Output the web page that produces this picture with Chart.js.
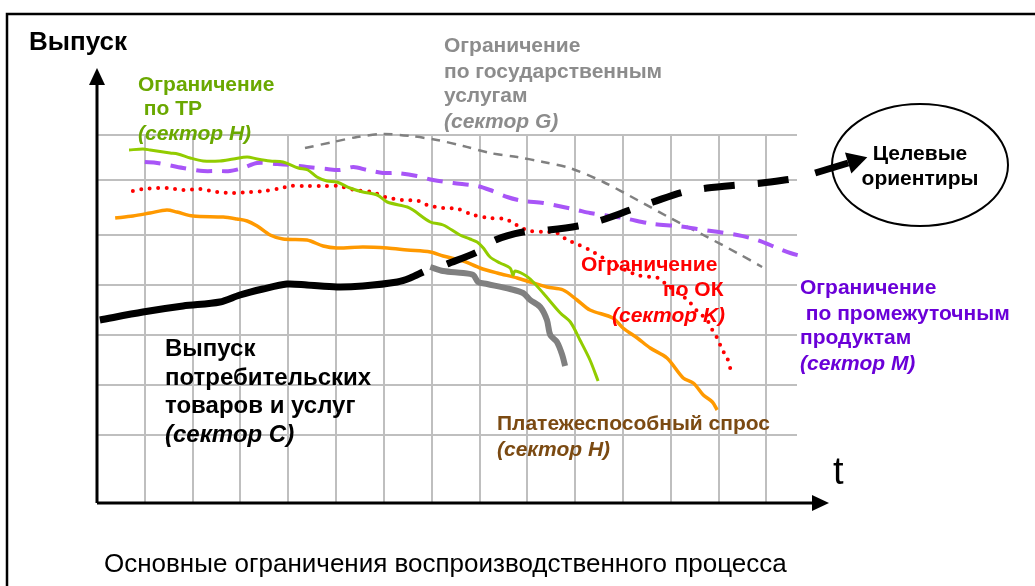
<!DOCTYPE html>
<html>
<head>
<meta charset="utf-8">
<script src="https://cdn.jsdelivr.net/npm/chart.js@4.4.1/dist/chart.umd.min.js"></script>
<style>
  body { margin: 0; background: #fff; }
  canvas { display: block; }
</style>
</head>
<body>
<canvas id="chart" width="1035" height="586"></canvas>
<script>
/* time (x) and output (y), x grid step = 10 */
const xTicks = [10, 20, 30, 40, 50, 60, 70, 80, 90, 100, 110, 120, 130, 140];
const yTicks = [0, 10, 20, 30, 40, 51, 60];

// Ограничение по государственным услугам (сектор G)
const govSeries = [[43.5,57.4],[49.4,58.6],[54.4,59.6],[59.8,60.2],[65.5,59.8],[71.1,59],[76.6,57.8],[82.2,56.4],
  [87.9,55.6],[93.3,54.6],[98.9,53.4],[105.9,50.6],[113,47],[119.9,43.4],[126.8,40],[133.9,36.4],[139.1,33.6]];
// Ограничение по промежуточным продуктам (сектор M)
const interSeries = [[10,54.6],[12.6,54.4],[18,53.4],[22.2,52.8],[25.1,52.8],[27.8,52.8],[30.5,53.4],[33.5,54.4],
  [37.7,54.2],[40.4,54],[43.9,53.6],[48.1,53.2],[50.8,53],[53.6,53.6],[56.5,53],[59.8,52.4],[62.8,52.4],[66.9,51.8],
  [70.3,51],[74.5,50.4],[79.5,49.8],[82.2,49],[85.8,47.6],[89.1,46.8],[93.3,46.4],[97.5,45.6],[100.4,45],[103.1,44.4],
  [110,43.4],[116.3,42.2],[121.3,41.8],[125.5,41.2],[133.9,40],[138.1,39],[142.3,37.4],[145,36.4],[148.1,35.6]];
// Ограничение по ОК (сектор K)
const capitalSeries = [[7.5,48.8],[9.6,49.2],[12.8,49.4],[14.9,49.4],[18,49],[21.5,49.2],[25.1,48.6],[28.5,48.4],
  [32,48.6],[35.1,48.8],[38.7,49.4],[40.4,49.8],[43.9,49.8],[47.3,49.8],[50.4,49.8],[54,49],[57.5,48.6],[60.3,47.6],
  [63.8,47],[67.2,46.8],[69,46],[72.4,45.4],[75.5,45.2],[78.7,44],[82.2,43.4],[85.4,43.2],[87,42.4],[88.9,41.4],
  [90.6,40.8],[93.3,40.6],[96.2,40.4],[98.3,39],[100.4,38.2],[103.8,36.6],[107.3,34.6],[110.5,33],[113,32],
  [115.7,31.6],[117.4,31.4],[119.2,30],[121.3,28.6],[123,27.4],[124.1,26.4],[125.7,24.6],[127.6,23],[128.7,21],
  [129.7,19.4],[130.8,17],[131.8,15.4],[132.8,12]];
// Платежеспособный спрос (сектор H)
const demandSeries = [[3.8,43.4],[7.5,43.8],[11.1,44.4],[14.6,45],[16.7,44.6],[20.1,43.8],[26.4,43.6],[29.3,43.2],
  [31.4,42.8],[33.5,41.8],[36.2,40],[38.9,39.2],[43.9,39],[47.3,37.8],[50.2,37.4],[55.6,37.6],[60.7,37.4],[64.9,37],
  [69.7,36.6],[72.4,35.8],[76.6,34.8],[80.1,33.4],[83.7,32.4],[87.9,31.4],[90.6,30.6],[94.1,29.6],[97.5,29],
  [100.4,27],[103.1,25],[107.9,23.4],[110,21.4],[113,19.4],[115.7,17.4],[119.2,15.4],[122.6,11.4],[124.7,10.4],
  [126.8,8],[128.7,6.6],[129.7,5]];
// Ограничение по ТР (сектор H)
const labourSeries = [[6.7,57],[9.6,57.2],[11.1,57],[15.3,56.4],[16.9,56.2],[19.5,55.4],[22.2,54.8],[25.7,54.8],
  [28.5,55.2],[31.4,55.6],[33.5,55.2],[36.2,54.8],[38.9,54.6],[42.1,53.4],[44.1,53],[46,51.6],[48.1,50.8],[50.2,50.6],
  [52.9,49.4],[55.6,48.6],[58.6,48],[60.7,46.6],[64.9,45.6],[66.1,45],[69.7,42.6],[72.4,42],[75.9,40],[78,39.2],
  [79.5,38.6],[80.8,37.4],[82.2,35.6],[84.3,34.4],[86.4,33.4],[87,32],[87.4,32.8],[89.1,32.2],[90.6,31.2],
  [93.3,28.4],[96.9,24.4],[99,22.6],[101,19],[103.1,15],[104.8,10.8]];
// Выпуск потребительских товаров и услуг (сектор C)
const outputSeries = [[0.6,23],[9.6,24.6],[18,25.8],[25.7,26.6],[29.9,28],[34.7,29.2],[39.7,30.2],[43.9,30],
  [50.2,29.6],[55.6,29.8],[62.8,30.6],[65.5,31.4],[68.2,32.6]];
// спад выпуска
const fallSeries = [[69.7,33.6],[72.4,32.8],[76.6,32.4],[78.7,32],[79.7,30.6],[81.6,30.2],[86.4,29.2],[89.1,28.4],
  [90.6,27],[92.7,25.6],[94.1,23],[94.8,20],[96.2,18.6],[97.3,16],[97.9,13.8]];
// Целевые ориентиры (dashed part and the last stroke with the arrow)
const targetSeries = [[73.2,34.2],[79.5,36.6],[83.3,39],[89.1,40.6],[94.4,41],[100.6,41.8],[105.6,43],[111.5,45],
  [116.3,46.6],[122.6,48.6],[127.6,49.4],[133.9,50],[139.1,50.4],[145.4,51.2]];
const targetArrow = [[150.2,52.4],[157.1,54.4]];

const FONT = "'Liberation Sans', Arial, sans-serif";

const texts = [
  {t: 'Выпуск', x: 29, y: 50, size: 26, color: '#000'},
  {t: 'Ограничение', x: 138, y: 91, size: 21, color: '#6aa800'},
  {t: ' по ТР', x: 138, y: 115, size: 21, color: '#6aa800'},
  {t: '(сектор H)', x: 138, y: 140, size: 21, color: '#6aa800', italic: true},
  {t: 'Ограничение', x: 444, y: 52, size: 21, color: '#8c8c8c'},
  {t: 'по государственным', x: 444, y: 78, size: 21, color: '#8c8c8c'},
  {t: 'услугам', x: 444, y: 102, size: 21, color: '#8c8c8c'},
  {t: '(сектор G)', x: 444, y: 128, size: 21, color: '#8c8c8c', italic: true},
  {t: 'Ограничение', x: 581, y: 271, size: 21, color: '#ff0000'},
  {t: 'по ОК', x: 663, y: 296, size: 21, color: '#ff0000'},
  {t: '(сектор K)', x: 612, y: 322, size: 21, color: '#ff0000', italic: true},
  {t: 'Ограничение', x: 800, y: 294, size: 21, color: '#6a00d8'},
  {t: ' по промежуточным', x: 800, y: 320, size: 21, color: '#6a00d8'},
  {t: 'продуктам', x: 800, y: 344, size: 21, color: '#6a00d8'},
  {t: '(сектор M)', x: 800, y: 370, size: 21, color: '#6a00d8', italic: true},
  {t: 'Выпуск', x: 165, y: 356, size: 24, color: '#000'},
  {t: 'потребительских', x: 165, y: 385, size: 24, color: '#000'},
  {t: 'товаров и услуг', x: 165, y: 413, size: 24, color: '#000'},
  {t: '(сектор C)', x: 165, y: 442, size: 24, color: '#000', italic: true},
  {t: 'Платежеспособный спрос', x: 497, y: 430, size: 21, color: '#7b4a12'},
  {t: '(сектор H)', x: 497, y: 456, size: 21, color: '#7b4a12', italic: true},
  {t: 'Целевые', x: 920, y: 160, size: 21, color: '#000', center: true},
  {t: 'ориентиры', x: 920, y: 185, size: 21, color: '#000', center: true},
  {t: 't', x: 833, y: 484, size: 38, color: '#000', normal: true},
  {t: 'Основные ограничения воспроизводственного процесса', x: 104, y: 572, size: 26, color: '#000', normal: true}
];

function pts(arr) { return arr.map(p => ({x: p[0], y: p[1]})); }

/* frame, axes with arrows, ellipse, arrowhead and texts */
const decor = {
  id: 'decor',
  afterDraw(chart) {
    const c = chart.ctx, xs = chart.scales.x, ys = chart.scales.y;
    const x0 = xs.getPixelForValue(0), y0 = ys.bottom;
    c.save();
    c.strokeStyle = '#000'; c.fillStyle = '#000';
    // frame
    c.lineWidth = 2.5;
    c.beginPath(); c.moveTo(7, 586); c.lineTo(7, 14); c.lineTo(1035, 14); c.stroke();
    // axes
    c.lineWidth = 3;
    c.beginPath(); c.moveTo(x0, y0); c.lineTo(x0, 80); c.moveTo(x0, y0); c.lineTo(815, y0); c.stroke();
    c.beginPath(); c.moveTo(x0, 68); c.lineTo(x0 - 8, 85); c.lineTo(x0 + 8, 85); c.closePath(); c.fill();
    c.beginPath(); c.moveTo(829, y0); c.lineTo(812, y0 - 8); c.lineTo(812, y0 + 8); c.closePath(); c.fill();
    // arrowhead of the target line
    const n = targetArrow.length;
    const bx = xs.getPixelForValue(targetArrow[n - 1][0]), by = ys.getPixelForValue(targetArrow[n - 1][1]);
    const ax = xs.getPixelForValue(targetArrow[n - 2][0]), ay = ys.getPixelForValue(targetArrow[n - 2][1]);
    const len = Math.hypot(bx - ax, by - ay), ux = (bx - ax) / len, uy = (by - ay) / len;
    c.beginPath();
    c.moveTo(bx + ux * 20, by + uy * 20);
    c.lineTo(bx - uy * 11, by + ux * 11);
    c.lineTo(bx + uy * 11, by - ux * 11);
    c.closePath(); c.fill();
    // ellipse
    c.lineWidth = 2;
    c.beginPath(); c.ellipse(920, 165, 88, 61, 0, 0, Math.PI * 2); c.stroke();
    // texts
    texts.forEach(l => {
      c.font = (l.italic ? 'italic ' : '') + (l.normal ? '' : 'bold ') + l.size + 'px ' + FONT;
      c.fillStyle = l.color;
      c.textAlign = l.center ? 'center' : 'left';
      c.textBaseline = 'alphabetic';
      c.fillText(l.t, l.x, l.y);
    });
    c.restore();
  }
};

const ctx = document.getElementById('chart').getContext('2d');
new Chart(ctx, {
  type: 'line',
  data: {
    datasets: [
      {data: pts(targetArrow), borderColor: '#000', borderWidth: 7},
      {data: pts(targetSeries), borderColor: '#000', borderWidth: 7, borderDash: [31, 23], tension: 0.3},
      {data: pts(outputSeries), borderColor: '#000', borderWidth: 7, tension: 0.3},
      {data: pts(fallSeries), borderColor: '#808080', borderWidth: 6, tension: 0.3},
      {data: pts(labourSeries), borderColor: '#92cc00', borderWidth: 3, tension: 0.3},
      {data: pts(demandSeries), borderColor: '#ff9900', borderWidth: 3.5, tension: 0.3},
      {data: pts(capitalSeries), borderColor: '#ff0000', borderWidth: 4, borderDash: [0, 8.5], borderCapStyle: 'round', tension: 0.3},
      {data: pts(interSeries), borderColor: '#a855f7', borderWidth: 4, borderDash: [16, 10], tension: 0.3},
      {data: pts(govSeries), borderColor: '#808080', borderWidth: 2.5, borderDash: [9, 7], tension: 0.3}
    ]
  },
  options: {
    responsive: false,
    animation: false,
    layout: {padding: {left: 97, top: 135, right: 238, bottom: 83}},
    datasets: {line: {pointRadius: 0, clip: false, fill: false}},
    plugins: {legend: {display: false}, tooltip: {enabled: false}},
    scales: {
      x: {
        type: 'linear', min: 0, max: 146.4,
        afterBuildTicks: s => { s.ticks = xTicks.map(v => ({value: v})); },
        ticks: {display: false},
        grid: {color: '#bfbfbf', lineWidth: 2, drawTicks: false},
        border: {display: false}
      },
      y: {
        type: 'linear', min: -13.6, max: 60,
        afterBuildTicks: s => { s.ticks = yTicks.map(v => ({value: v})); },
        ticks: {display: false},
        grid: {color: '#bfbfbf', lineWidth: 2, drawTicks: false},
        border: {display: false}
      }
    }
  },
  plugins: [decor]
});
</script>
</body>
</html>
